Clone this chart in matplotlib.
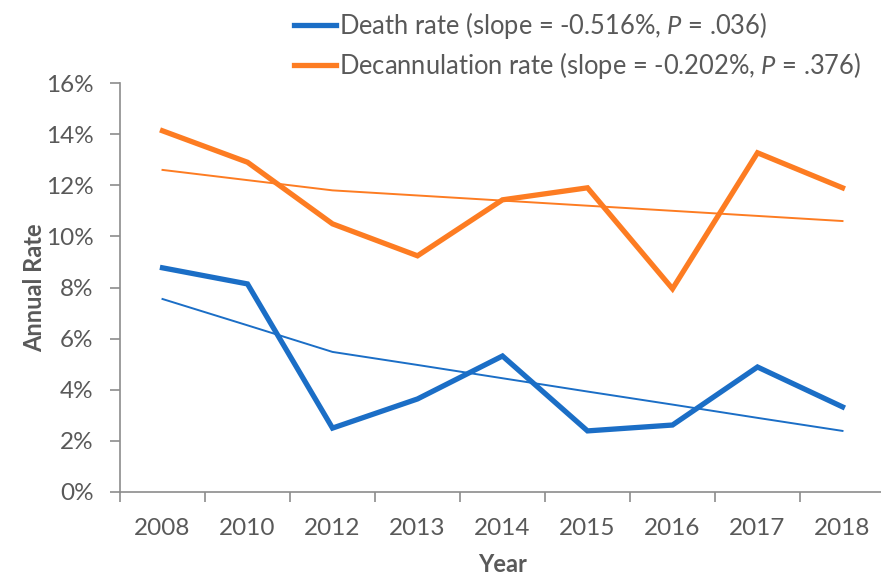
import matplotlib
matplotlib.use("Agg")
import matplotlib.pyplot as plt
from matplotlib.ticker import FixedLocator, NullFormatter

plt.rcParams['font.family'] = ['Lato', 'DejaVu Sans']
plt.rcParams['mathtext.fontset'] = 'custom'
plt.rcParams['mathtext.rm'] = 'Lato'
plt.rcParams['mathtext.it'] = 'Lato:italic'

years = ['2008', '2010', '2012', '2013', '2014', '2015', '2016', '2017', '2018']
death_rate = [8.77, 8.14, 2.5, 3.64, 5.32, 2.39, 2.62, 4.89, 3.33]
decannulation_rate = [14.13, 12.9, 10.49, 9.24, 11.43, 11.9, 7.95, 13.27, 11.9]
death_trend = [7.55, 6.52, 5.48, 4.97, 4.45, 3.93, 3.42, 2.9, 2.39]
decan_trend = [12.6, 12.2, 11.8, 11.6, 11.4, 11.2, 11.0, 10.8, 10.6]
y_ticks = [0, 2, 4, 6, 8, 10, 12, 14, 16]

blue = '#1b6ec6'
orange = '#fd7c22'
gray = '#595959'
axis_gray = '#8c8c8c'

fig = plt.figure(figsize=(8.81, 5.82), dpi=100)
ax = fig.add_axes([120/881, 90/582, 765/881, 409/582])

x = list(range(len(years)))
l1, = ax.plot(x, death_rate, color=blue, lw=3.8, solid_joinstyle='miter',
              label=r'Death rate (slope = -0.516%, $P$ = .036)')
l2, = ax.plot(x, decannulation_rate, color=orange, lw=3.8, solid_joinstyle='miter',
              label=r'Decannulation rate (slope = -0.202%, $P$ = .376)')
ax.plot(x, death_trend, color=blue, lw=1.4)
ax.plot(x, decan_trend, color=orange, lw=1.4)

ax.set_xlim(-0.5, len(years) - 0.5)
ax.set_ylim(0, 16)
ax.set_yticks(y_ticks)
ax.set_yticklabels([f'{v}%' for v in y_ticks])
ax.set_xticks(x)
ax.set_xticklabels(years)
ax.xaxis.set_minor_locator(FixedLocator([i - 0.5 for i in range(len(years) + 1)]))
ax.xaxis.set_minor_formatter(NullFormatter())
ax.tick_params(axis='x', which='major', length=0, pad=19, labelsize=17.5, labelcolor=gray)
ax.tick_params(axis='x', which='minor', length=7, width=1.2, color=axis_gray, direction='out')
ax.tick_params(axis='y', length=7, width=1.2, color=axis_gray, pad=12, labelsize=17.5, labelcolor=gray)

for s in ['top', 'right']:
    ax.spines[s].set_visible(False)
for s in ['left', 'bottom']:
    ax.spines[s].set_color(axis_gray)
    ax.spines[s].set_linewidth(1.2)

ax.set_xlabel('Year', fontsize=17, fontweight='bold', color=gray, labelpad=10)
ax.set_ylabel('Annual Rate', fontsize=17, fontweight='bold', color=gray, labelpad=0)

leg = fig.legend(handles=[l1, l2], loc='upper left', bbox_to_anchor=(284/881, 1.0),
                 frameon=False, fontsize=18.4, handlelength=1.65, handletextpad=0.1,
                 labelspacing=0.33, borderaxespad=0.0)
for t in leg.get_texts():
    t.set_color(gray)

fig.savefig('out.png', dpi=100)
